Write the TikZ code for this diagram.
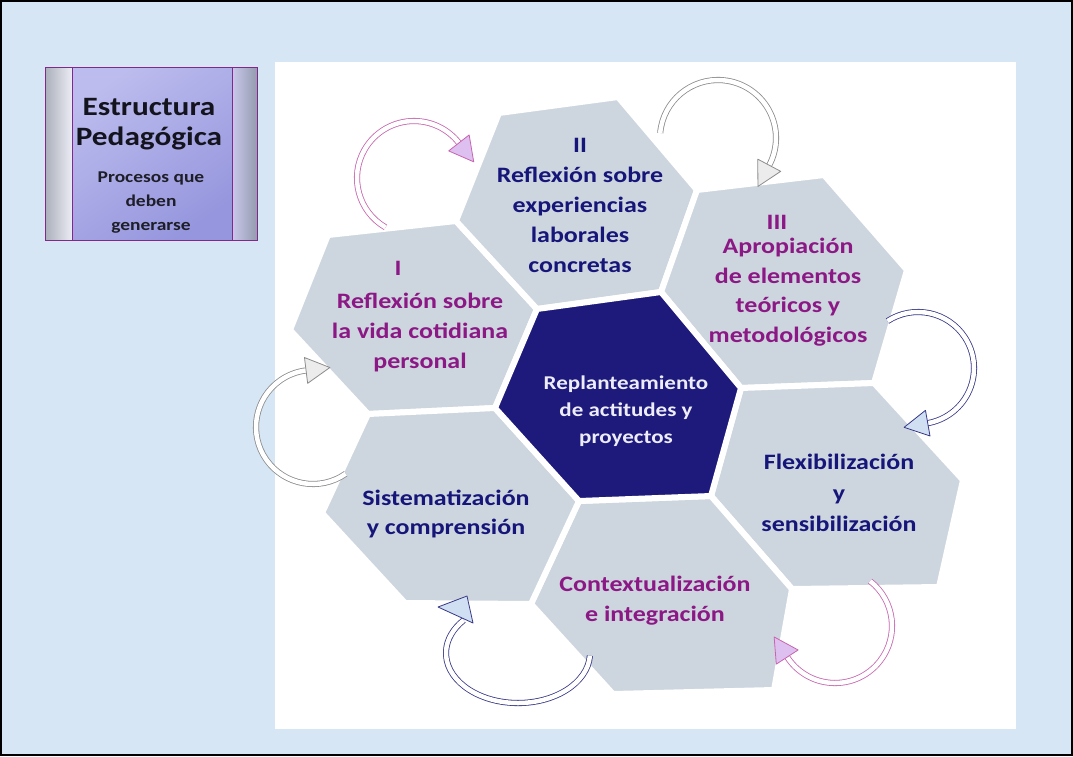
\documentclass[tikz,border=0pt]{standalone}
\usepackage{fontspec}
\setmainfont{Carlito}[FakeStretch=1.18]
\usetikzlibrary{calc}
\definecolor{bgblue}{RGB}{214,230,245}
\definecolor{hexgray}{RGB}{205,214,222}
\definecolor{navyfill}{RGB}{30,26,124}
\definecolor{navytxt}{RGB}{22,22,122}
\definecolor{magtxt}{RGB}{140,24,134}
\definecolor{centxt}{RGB}{236,236,250}
\definecolor{pinkline}{RGB}{200,100,175}
\definecolor{pinkfill}{RGB}{222,192,240}
\definecolor{grayline}{RGB}{140,140,140}
\definecolor{grayfill}{RGB}{236,236,236}
\definecolor{blueline}{RGB}{55,55,135}
\definecolor{bluefill}{RGB}{208,224,242}
\definecolor{boxline}{RGB}{130,40,140}
\newcommand\cycarrow[6]{%
  \pgfmathsetmacro\cyri{#2-13}%
  \pgfmathsetmacro\cyro{#2+13}%
  \pgfmathsetmacro\cyta{#4+90}%
  \draw[#5] ($(#1)+(#3:#2)$) arc[start angle=#3, end angle=#4, radius=#2];
  \filldraw[#6] ($(#1)+(#4:\cyri)$) -- ($(#1)+(#4:\cyro)$) -- ($(#1)+(#4:#2)+(\cyta:24)$) -- cycle;
}
\begin{document}
\begin{tikzpicture}[x=1pt,y=-1pt,
  hexcell/.style={fill=hexgray, draw=white, line width=6pt, line join=round},
  hexcenter/.style={fill=navyfill, draw=white, line width=6pt, line join=round},
  hextext/.style={align=center, inner sep=0pt, font=\bfseries\fontsize{22}{30}\selectfont},
  shaft/.style={line width=0.8pt, double=white, double distance=4.5pt},
  pinkshaft/.style={shaft, draw=pinkline},
  grayshaft/.style={shaft, draw=grayline},
  blueshaft/.style={shaft, draw=blueline},
  pinkhead/.style={draw=pinkline, fill=pinkfill, line width=0.8pt, line join=round},
  grayhead/.style={draw=grayline, fill=grayfill, line width=0.8pt, line join=round},
  bluehead/.style={draw=blueline, fill=bluefill, line width=0.8pt, line join=round}]
\useasboundingbox (0,0) rectangle (1073,756);
\fill[bgblue] (0,0) rectangle (1073,756);
\draw[black, line width=2pt] (1,1) rectangle (1072,755);
% white panel
\fill[white] (275,62) rectangle (1016,729);

% title box
\shade[shading=axis, top color={rgb,255:red,188;green,188;blue,238}, middle color={rgb,255:red,232;green,230;blue,250}, bottom color={rgb,255:red,150;green,150;blue,222}, shading angle=35] (72,67) rectangle (232,240);
\shade[left color={rgb,255:red,170;green,175;blue,185}, right color={rgb,255:red,236;green,236;blue,245}] (45,67) rectangle (72,240);
\shade[left color={rgb,255:red,200;green,200;blue,235}, right color={rgb,255:red,150;green,155;blue,175}] (232,67) rectangle (257,240);
\draw[boxline, line width=1pt] (45,67) rectangle (257,240);
\draw[boxline, line width=1pt] (72,67) -- (72,240) (232,67) -- (232,240);
\node[align=center, inner sep=0pt, text={rgb,255:red,20;green,20;blue,30}, font=\bfseries\fontsize{26.5}{30}\selectfont] (title) at (149,124) {Estructura\\Pedagógica};
\node[align=center, inner sep=0pt, text={rgb,255:red,30;green,30;blue,40}, font=\bfseries\fontsize{16.5}{24}\selectfont] (subtitle) at (151,203) {Procesos que\\deben\\generarse};

% mesh points
\coordinate (J1) at (537,309);
\coordinate (J2) at (661,292);
\coordinate (J3) at (741,388);
\coordinate (J4) at (711,496);
\coordinate (J5) at (579,501);
\coordinate (J6) at (495,408);
\coordinate (A1) at (456,221);
\coordinate (A2) at (697,190);
\coordinate (A3) at (874,383);
\coordinate (A4) at (792,589);
\coordinate (A5) at (531,604);
\coordinate (A6) at (368,414);

% hexagons
\path[hexcell] (290,330) -- (328,235) -- (A1) -- (J1) -- (J6) -- (A6) -- cycle;
\path[hexcell] (J1) -- (A1) -- (499,113) -- (618,97) -- (A2) -- (J2) -- cycle;
\path[hexcell] (J2) -- (A2) -- (824,175) -- (907,270) -- (A3) -- (J3) -- cycle;
\path[hexcell] (J3) -- (A3) -- (963,480) -- (939,587) -- (A4) -- (J4) -- cycle;
\path[hexcell] (J5) -- (J4) -- (A4) -- (774,690) -- (613,694) -- (A5) -- cycle;
\path[hexcell] (322,513) -- (A6) -- (J6) -- (J5) -- (A5) -- (405,603) -- cycle;
\path[hexcenter] (J1) -- (J2) -- (J3) -- (J4) -- (J5) -- (J6) -- cycle;

% texts
\node[hextext, text=magtxt] (nI) at (398,268) {I};
\node[hextext, text=magtxt] (tI) at (420,333) {Reflexión sobre\\la vida cotidiana\\personal};
\node[hextext, text=navytxt] (tII) at (580,205) {II\\Reflexión sobre\\experiencias\\laborales\\concretas};
\node[hextext, text=magtxt] (nIII) at (777,222) {III};
\node[hextext, text=magtxt, font=\bfseries\fontsize{22}{29.5}\selectfont] (tIII) at (788,292) {Apropiación\\de elementos\\teóricos y\\metodológicos};
\node[hextext, text=navytxt, font=\bfseries\fontsize{22}{31}\selectfont] (tF) at (839,493) {Flexibilización\\y\\sensibilización};
\node[hextext, text=magtxt] (tC) at (655,601) {Contextualización\\e integración};
\node[hextext, text=navytxt, font=\bfseries\fontsize{22}{29}\selectfont] (tS) at (446,514) {Sistematización\\y comprensión};
\node[hextext, text=centxt, font=\bfseries\fontsize{19.5}{27}\selectfont] (tR) at (626,411) {Replanteamiento\\de actitudes y\\proyectos};

% cyclic arrows
\coordinate (c1) at (414,178);
\coordinate (c2) at (718,138);
\coordinate (c3) at (918,368);
\coordinate (c4) at (835,626);
\coordinate (c5) at (518,653);
\coordinate (c6) at (313,427);
\cycarrow{c1}{57}{120}{322}{pinkshaft}{pinkhead}
\cycarrow{c2}{58}{185}{388}{grayshaft}{grayhead}
\cycarrow{c3}{56}{237}{440}{blueshaft}{bluehead}
\cycarrow{c4}{57}{-52}{147}{pinkshaft}{pinkhead}
\draw[blueshaft] ($(c5)+(3:72 and 50)$) arc[start angle=3, end angle=221, x radius=72, y radius=50];
\filldraw[bluehead] (438,607) -- (473,623) -- (467,596) -- cycle;
\cycarrow{c6}{57}{55}{263}{grayshaft}{grayhead}
\end{tikzpicture}
\end{document}
